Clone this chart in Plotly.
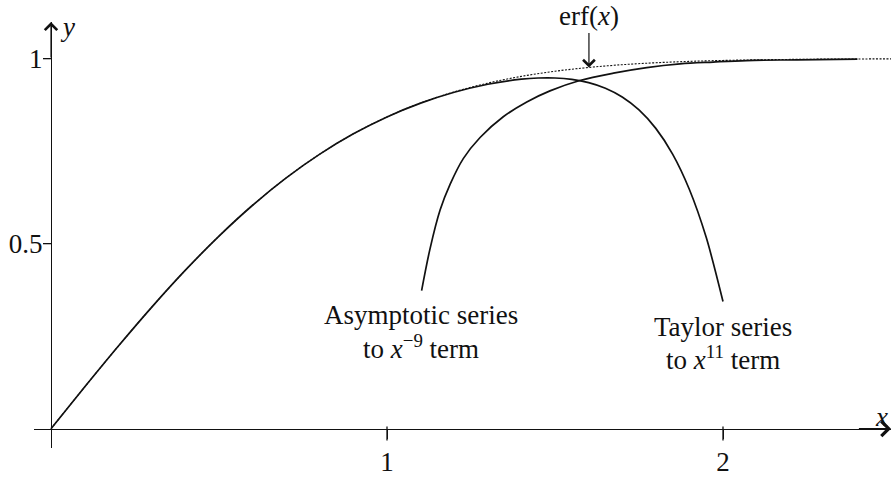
import plotly.graph_objects as go

# erf(x) sampled on [0, 2.5]
erf_x = [0.0, 0.1, 0.2, 0.3, 0.4, 0.5, 0.6, 0.7, 0.8, 0.9, 1.0, 1.1, 1.2, 1.3,
         1.4, 1.5, 1.6, 1.7, 1.8, 1.9, 2.0, 2.1, 2.2, 2.3, 2.4, 2.5]
erf_y = [0.0, 0.1125, 0.2227, 0.3286, 0.4284, 0.5205, 0.6039, 0.6778, 0.7421,
         0.7969, 0.8427, 0.8802, 0.9103, 0.9340, 0.9523, 0.9661, 0.9763, 0.9838,
         0.9891, 0.9928, 0.9953, 0.9970, 0.9981, 0.9989, 0.9993, 0.9996]

# Taylor series truncated after the x^11 term
taylor_x = [0.0, 0.1, 0.2, 0.3, 0.4, 0.5, 0.6, 0.7, 0.8, 0.9, 1.0, 1.1, 1.2, 1.3,
            1.4, 1.45, 1.5, 1.55, 1.6, 1.65, 1.7, 1.75, 1.8, 1.85, 1.9, 1.95, 2.0]
taylor_y = [0.0, 0.1125, 0.2227, 0.3286, 0.4284, 0.5205, 0.6039, 0.6778, 0.7421,
            0.7969, 0.8426, 0.8798, 0.9092, 0.9310, 0.9446, 0.9478, 0.9479, 0.9441,
            0.9354, 0.9203, 0.8966, 0.8616, 0.8117, 0.7421, 0.6465, 0.5171, 0.3437]

# Asymptotic series truncated after the x^-9 term
asym_x = [1.103, 1.128, 1.158, 1.188, 1.227, 1.277, 1.346, 1.416, 1.485, 1.574,
          1.674, 1.773, 1.872, 1.971, 2.07, 2.22, 2.4]
asym_y = [0.373, 0.486, 0.591, 0.661, 0.730, 0.787, 0.843, 0.883, 0.913, 0.941,
          0.961, 0.976, 0.986, 0.991, 0.995, 0.997, 0.999]

x_ticks = [1, 2]
x_tick_labels = ["1", "2"]
y_ticks = [0.5, 1]
y_tick_labels = ["0.5", "1"]

FONT = "Liberation Serif"
FS = 27
INK = "#111111"

W, H = 893, 479
MARGIN = dict(l=34, r=2, t=22, b=16)
X_RANGE = [-0.0506, 2.5]
Y_RANGE = [-0.0522, 1.0992]

# pixels per data unit along y, used to hang the x tick marks below the axis
px_per_y = (H - MARGIN["t"] - MARGIN["b"]) / (Y_RANGE[1] - Y_RANGE[0])
X_TICK_LEN = 10

fig = go.Figure()

fig.add_trace(go.Scatter(
    x=erf_x, y=erf_y, mode="lines",
    line=dict(color=INK, width=1.1, dash="2px,1.5px", shape="spline"),
    hoverinfo="skip"))
fig.add_trace(go.Scatter(
    x=taylor_x, y=taylor_y, mode="lines",
    line=dict(color=INK, width=1.7, shape="spline", smoothing=0.8),
    hoverinfo="skip"))
fig.add_trace(go.Scatter(
    x=asym_x, y=asym_y, mode="lines",
    line=dict(color=INK, width=1.7, shape="spline", smoothing=1.0),
    hoverinfo="skip"))

# x tick marks hanging below the axis
fig.add_trace(go.Scatter(
    x=x_ticks, y=[-(X_TICK_LEN / 2) / px_per_y] * len(x_ticks), mode="markers",
    marker=dict(symbol="line-ns", size=X_TICK_LEN,
                line=dict(color=INK, width=1.3)),
    hoverinfo="skip", cliponaxis=False))

x_pos = (0 - Y_RANGE[0]) / (Y_RANGE[1] - Y_RANGE[0])
y_pos = (0 - X_RANGE[0]) / (X_RANGE[1] - X_RANGE[0])

tick_font = dict(family=FONT, size=FS, color=INK)

fig.update_layout(
    width=W, height=H,
    margin=MARGIN,
    paper_bgcolor="white", plot_bgcolor="white",
    showlegend=False,
    hovermode=False,
    font=dict(family=FONT, size=FS, color=INK),
    xaxis=dict(
        range=X_RANGE, anchor="free", position=x_pos,
        showgrid=False, zeroline=False,
        showline=True, linecolor=INK, linewidth=1.2,
        ticks="outside", ticklen=9, tickwidth=1.2, tickcolor=INK,
        tickvals=x_ticks, ticktext=x_tick_labels, tickfont=tick_font,
    ),
    yaxis=dict(
        range=Y_RANGE, anchor="free", position=y_pos,
        showgrid=False, zeroline=False,
        showline=True, linecolor=INK, linewidth=1.2,
        ticks="outside", ticklen=8, tickwidth=1.2, tickcolor=INK,
        tickvals=y_ticks, ticktext=y_tick_labels, tickfont=tick_font,
        ticklabelstandoff=-5,
    ),
)

for t in y_ticks:
    fig.add_shape(type="line", xref="x", yref="y", y0=t, y1=t,
                  xsizemode="pixel", xanchor=0, x0=-8, x1=0,
                  line=dict(color=INK, width=1.2))

# axis arrowheads
fig.add_annotation(x=X_RANGE[1], y=0, ax=X_RANGE[1] - 0.1, ay=0,
                   xref="x", yref="y", axref="x", ayref="y", text="",
                   showarrow=True, arrowhead=4, arrowsize=2.2, arrowwidth=1.3,
                   arrowcolor=INK)
fig.add_annotation(x=0, y=Y_RANGE[1], ax=0, ay=Y_RANGE[1] - 0.1,
                   xref="x", yref="y", axref="x", ayref="y", text="",
                   showarrow=True, arrowhead=4, arrowsize=2.0, arrowwidth=1.2,
                   arrowcolor=INK)

# axis names
fig.add_annotation(x=2.473, y=0.031, text="<i>x</i>", showarrow=False,
                   font=dict(family=FONT, size=FS, color=INK))
fig.add_annotation(x=0.05, y=1.086, text="<i>y</i>", showarrow=False,
                   font=dict(family=FONT, size=FS, color=INK))

# curve labels
fig.add_annotation(x=1.601, y=0.9763, text="erf(<i>x</i>)",
                   showarrow=True, ax=0, ay=-51, arrowhead=4, arrowsize=1.9,
                   arrowwidth=1.2, arrowcolor=INK, standoff=0,
                   font=dict(family=FONT, size=FS, color=INK))
fig.add_annotation(x=1.101, y=0.308, text="Asymptotic series", showarrow=False,
                   font=dict(family=FONT, size=FS, color=INK))
fig.add_annotation(x=1.101, y=0.2215, text="to <i>x</i><sup>\u22129</sup> term",
                   showarrow=False, font=dict(family=FONT, size=FS, color=INK))
fig.add_annotation(x=2.001, y=0.2745, text="Taylor series", showarrow=False,
                   font=dict(family=FONT, size=FS, color=INK))
fig.add_annotation(x=2.001, y=0.192, text="to <i>x</i><sup>11</sup> term",
                   showarrow=False, font=dict(family=FONT, size=FS, color=INK))

fig.write_html("out.html", config={"displayModeBar": False})
